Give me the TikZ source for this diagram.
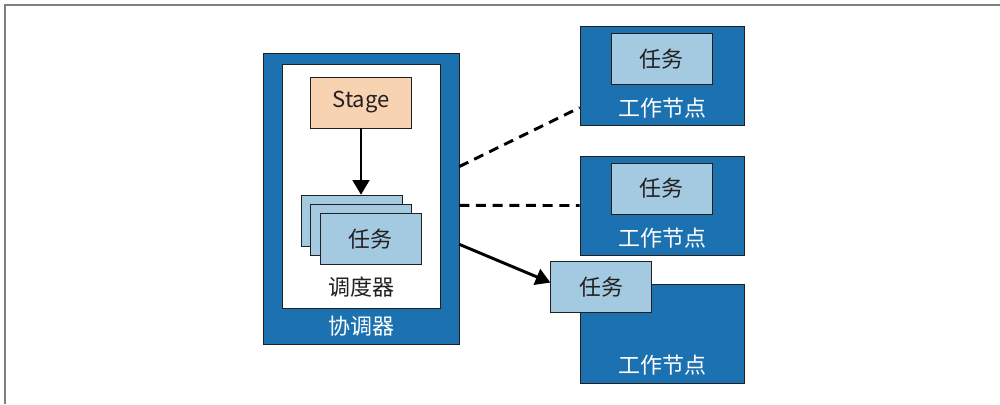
\documentclass[tikz,border=0pt]{standalone}
\usepackage{fontspec}
\setmainfont{Noto Sans CJK SC}
\usepackage{xcolor}
\definecolor{Lapis}{HTML}{1C71B1}
\definecolor{Powder}{HTML}{A3CAE0}
\definecolor{Apricot}{HTML}{F8D3B2}
\definecolor{Ink}{HTML}{231F20}
\colorlet{cBlue}{Lapis}
\colorlet{cLight}{Powder}
\colorlet{cPeach}{Apricot}
\usepackage{tikz}
\usetikzlibrary{calc, positioning, arrows.meta}
\tikzset{
	line width = 1.1pt,
	>={Triangle[length=11pt, width=12.5pt]},
	font = \fontsize{16.5pt}{19pt}\selectfont,
	frame/.style={
		draw=black!50,
		line width=1.5pt
	},
	host/.style={
		draw=Ink,
		fill=cBlue,
		minimum width=123pt,
		minimum height=74.25pt,
		inner sep=0pt
	},
	inner panel/.style={
		draw=Ink,
		fill=white,
		minimum width=118.5pt,
		minimum height=183pt,
		inner sep=0pt
	},
	task/.style={
		draw=Ink,
		fill=cLight,
		text=Ink,
		minimum width=75.5pt,
		minimum height=38.25pt,
		inner sep=0pt
	},
	stage/.style={
		task,
		fill=cPeach
	},
	white label/.style={
		text=white,
		inner sep=0pt
	},
	dark label/.style={
		text=Ink,
		inner sep=0pt
	},
	link/.style={
		line width=2.2pt,
		line cap=butt
	},
	dashlink/.style={
		link,
		dash pattern=on 7.5pt off 5pt
	}
}

\begin{document}
\begin{tikzpicture}[x=0.75pt, y=-0.75pt]
        \useasboundingbox (0,0) rectangle (1000,404);
        \draw[frame] (5,404) -- (5,5) -- (1000,5);

        \node (coord) [host, minimum width=147pt, minimum height=218.25pt] at (361,198.5) {};
        \node (sched) [inner panel] at (361,186) {};
        \node (stage) [stage] at (361,102.5) {Stage};
        \node (sb) [task] at (352,220.5) {};
        \node (sm) [task] at (361,229.5) {};
        \node (sf) [task] at (370.5,239) {任务};
        \node (schedname) [dark label] at (361,287) {调度器};
        \node (coordname) [white label] at (361,326) {协调器};

        \node (w1) [host] at (662,76) {};
        \node (w2) [host] at (662,205.5) {};
        \node (w3) [host] at (662,333.5) {};
        \node (t1) [task] at (661.5,59) {任务};
        \node (t2) [task] at (661.5,188.5) {任务};
        \node (t3) [task] at (601,287) {任务};
        \node (w1name) [white label] at (662,108) {工作节点};
        \node (w2name) [white label] at (662,238) {工作节点};
        \node (w3name) [white label] at (662,365) {工作节点};

        \draw[link, ->] (stage.south) -- (stage.south |- sb.north);
        \draw[dashlink] (coord.18) -- (w1.-159)
            (coord.-4) -- (w2.west);
        \draw[link, ->] (coord.-25) -- (t3.175);
    \end{tikzpicture}
\end{document}
